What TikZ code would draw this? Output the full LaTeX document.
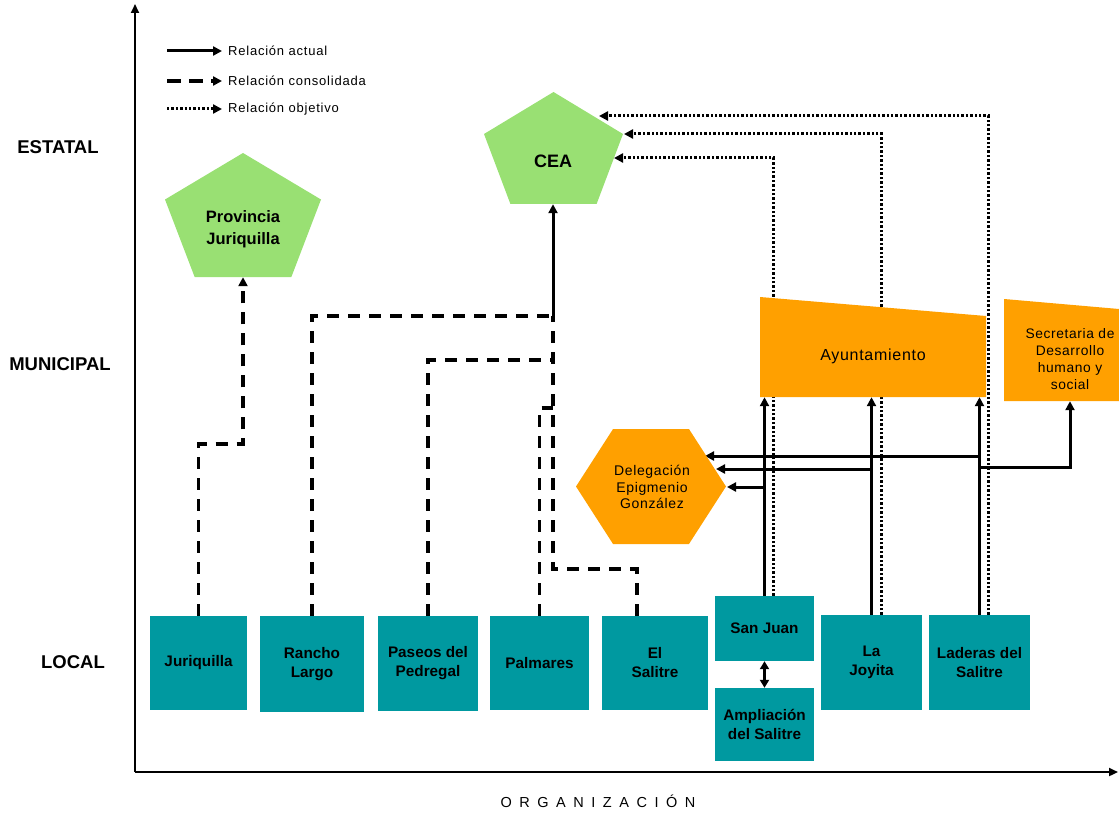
\documentclass[tikz,border=0pt]{standalone}
\usepackage{fontspec}
\setmainfont{Liberation Sans}
\newfontfamily\tracked[LetterSpace=4.5]{Liberation Sans}
\newfontfamily\legendfont[LetterSpace=6]{Liberation Sans}
\newfontfamily\widefont[LetterSpace=52]{Liberation Sans}
\usetikzlibrary{arrows.meta,calc}
\definecolor{tealbox}{RGB}{0,153,160}
\definecolor{greenpent}{RGB}{153,224,115}
\definecolor{orangebox}{RGB}{255,160,0}
\pgfdeclarelayer{bg}
\pgfsetlayers{bg,main}

\begin{document}
\begin{tikzpicture}[x=1pt,y=-1pt,
  tipA/.style={-{Triangle[length=9pt,width=9pt]}},
  act/.style={line width=3pt, tipA},
  cons/.style={line width=3.3pt, dash pattern=on 12pt off 9pt, tipA},
  obj/.style={line width=3pt, dash pattern=on 2.4pt off 2pt, tipA},
  axisline/.style={line width=2.2pt, -{Triangle[length=9pt,width=8pt]}},
  local/.style={fill=tealbox, inner sep=0pt, align=center,
    font=\bfseries\fontsize{15.3}{19}\selectfont},
  levellabel/.style={font=\bfseries\fontsize{18.5}{20}\selectfont},
  legendtext/.style={anchor=west, inner sep=0pt, font=\legendfont\fontsize{13}{14}\selectfont},
  pent/.style={inner sep=0pt, path picture={
    \fill[greenpent] (path picture bounding box.north)
      -- ($(path picture bounding box.north east)!0.375!(path picture bounding box.south east)$)
      -- ($(path picture bounding box.south west)!0.81!(path picture bounding box.south east)$)
      -- ($(path picture bounding box.south west)!0.19!(path picture bounding box.south east)$)
      -- ($(path picture bounding box.north west)!0.375!(path picture bounding box.south west)$)
      -- cycle;}},
  hexa/.style={inner sep=0pt, path picture={
    \fill[orangebox] (path picture bounding box.west)
      -- ($(path picture bounding box.north west)!0.247!(path picture bounding box.north east)$)
      -- ($(path picture bounding box.north west)!0.753!(path picture bounding box.north east)$)
      -- (path picture bounding box.east)
      -- ($(path picture bounding box.south west)!0.753!(path picture bounding box.south east)$)
      -- ($(path picture bounding box.south west)!0.247!(path picture bounding box.south east)$)
      -- cycle;}},
  slanted/.style={inner sep=0pt, path picture={
    \fill[orangebox] (path picture bounding box.north west)
      -- ($(path picture bounding box.north east)!#1!(path picture bounding box.south east)$)
      -- (path picture bounding box.south east)
      -- (path picture bounding box.south west) -- cycle;}},
]
\useasboundingbox (0,0) rectangle (1119,813);

% axes
\coordinate (orig) at (135,772);
\coordinate (ytop) at (135,4);
\coordinate (xend) at (1118,772);
\draw[axisline] (orig) -- (ytop);
\draw[axisline] (orig) -- (xend);

% level labels
\node[levellabel] (estatal) at (58,147) {ESTATAL};
\node[levellabel] (municipal) at (60,364) {MUNICIPAL};
\node[levellabel] (localLbl) at (73,662) {LOCAL};
\node[font=\widefont\fontsize{14.5}{16}\selectfont] (orgLbl) at (598,801) {ORGANIZACIÓN};

% legend
\coordinate (lgA1) at (167,51);  \coordinate (lgA2) at (222,51);
\coordinate (lgB1) at (167,81);  \coordinate (lgB2) at (222,81);
\coordinate (lgC1) at (167,109); \coordinate (lgC2) at (222,109);
\draw[act] (lgA1) -- (lgA2);
\draw[cons, dash pattern=on 14pt off 8pt] (lgB1) -- (lgB2);
\draw[obj] (lgC1) -- (lgC2);
\node[legendtext] (lgAt) at (228,51) {Relación actual};
\node[legendtext] (lgBt) at (228,81) {Relación consolidada};
\node[legendtext] (lgCt) at (228,109) {Relación objetivo};

% state level
\node[pent, minimum width=156pt, minimum height=124pt] (prov) at (243,215) {};
\node[font=\bfseries\fontsize{16.5}{22}\selectfont, align=center] (provT) at (243,229) {Provincia\\Juriquilla};
\node[pent, minimum width=139pt, minimum height=112pt] (cea) at (553.5,148) {};
\node[font=\bfseries\fontsize{18}{20}\selectfont] (ceaT) at (553,161) {CEA};

% municipal level
\node[slanted=0.19, minimum width=226pt, minimum height=100pt] (ayto) at (873,347) {};
\node[font=\tracked\fontsize{16}{18}\selectfont] (aytoT) at (873,356) {Ayuntamiento};
\node[slanted=0.098, minimum width=115pt, minimum height=102pt] (secre) at (1061.5,350) {};
\node[font=\tracked\fontsize{13.8}{17}\selectfont, align=center] (secreT) at (1070,359)
  {Secretaria de\\Desarrollo\\humano y\\social};
\node[hexa, minimum width=150pt, minimum height=115pt] (deleg) at (651,486.5) {};
\node[font=\tracked\fontsize{14}{16.5}\selectfont, align=center] (delegT) at (652,487)
  {Delegación\\Epigmenio\\González};

% local level
\node[local, minimum width=97pt,  minimum height=94pt] (jur)      at (198.5,663) {Juriquilla};
\node[local, minimum width=104pt, minimum height=96pt] (rancho)   at (312,664)   {Rancho\\Largo};
\node[local, minimum width=100pt, minimum height=95pt] (paseos)   at (428,663.5) {Paseos del\\Pedregal};
\node[local, minimum width=99pt,  minimum height=94pt] (palmares) at (539.5,663) {Palmares};
\node[local, minimum width=106pt, minimum height=94pt] (salitre)  at (655,663)   {El\\Salitre};
\node[local, minimum width=99pt,  minimum height=65pt] (sanjuan)  at (764.5,628.5) {San Juan};
\node[local, minimum width=99pt,  minimum height=73pt] (ampl)     at (764.5,724.5) {Ampliación\\del Salitre};
\node[local, minimum width=101pt, minimum height=95pt] (joyita)   at (871.5,662.5) {La\\Joyita};
\node[local, minimum width=101pt, minimum height=95pt] (laderas)  at (979.5,662.5) {Laderas del\\Salitre};

% junctions and entry points
\coordinate (ceaJ) at (553,316);
\coordinate (ceaP) at (553,360);
\coordinate (ceaQ) at (553,408);
\coordinate (ceaS) at (553,569);
\coordinate (jurK) at (243,444);
\coordinate (ceaIn1) at (599,116);
\coordinate (ceaIn2) at (624,134);
\coordinate (ceaIn3) at (614,158);
\coordinate (delIn1) at (705,456);
\coordinate (delIn2) at (716,469);
\coordinate (delIn3) at (727,487);
\coordinate (secJ) at (979,467);

\begin{pgfonlayer}{bg}
  % objective relations towards CEA
  \draw[obj] ([xshift=9pt]sanjuan.north) |- (ceaIn3);
  \draw[obj] ([xshift=10pt]joyita.north) |- (ceaIn2);
  \draw[obj] ([xshift=9pt]laderas.north) |- (ceaIn1);

  % consolidated relations
  \draw[cons] (jur.north) |- (jurK) -- (jurK |- prov.south);
  \draw[cons, -] (rancho.north) |- (ceaJ);
  \draw[cons, -] (paseos.north) |- (ceaP);
  \draw[cons, -] (palmares.north) |- (ceaQ);
  \draw[cons, -] ([xshift=-18pt]salitre.north) |- (ceaS) -- (ceaJ);

  % current relations
  \draw[act] (ceaJ) -- (ceaJ |- cea.south);
  \draw[act] (sanjuan.north) -- (sanjuan.north |- ayto.south);
  \draw[act] (joyita.north) -- (joyita.north |- ayto.south);
  \draw[act] (laderas.north) -- (laderas.north |- ayto.south);
  \draw[act] (laderas.north |- delIn1) -- (delIn1);
  \draw[act] (joyita.north |- delIn2) -- (delIn2);
  \draw[act] (sanjuan.north |- delIn3) -- (delIn3);
  \draw[act] (laderas.north |- secJ) -| (secreT |- secre.south);
  \draw[act, {Triangle[length=8pt,width=9pt]}-{Triangle[length=8pt,width=9pt]}] (sanjuan.south) -- (ampl.north);
\end{pgfonlayer}
\end{tikzpicture}
\end{document}
